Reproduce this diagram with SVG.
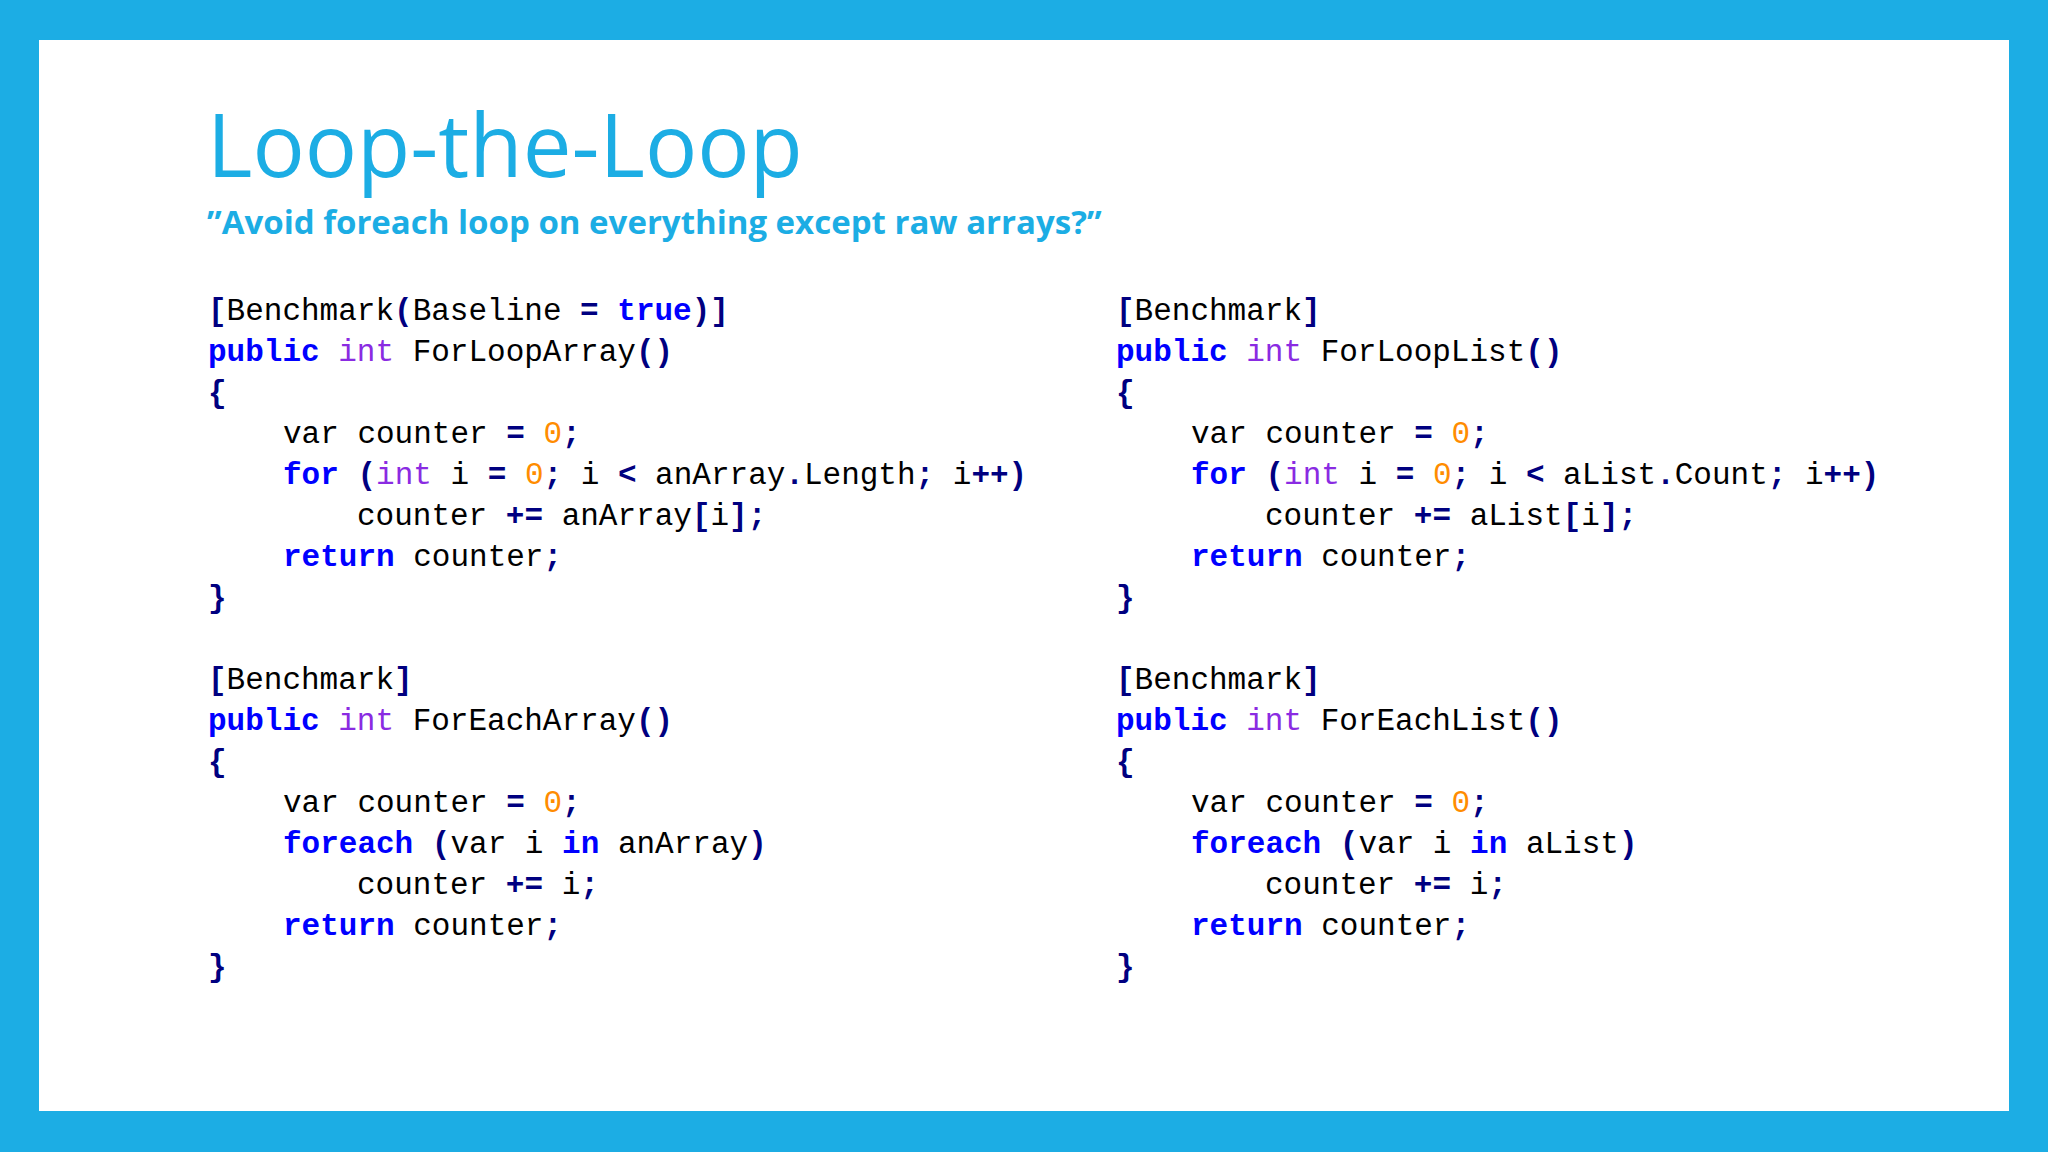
<svg xmlns="http://www.w3.org/2000/svg" width="2048" height="1152" viewBox="0 0 2048 1152">
<style>
.c{font-family:"Liberation Mono","DejaVu Sans Mono",monospace;font-size:31px;fill:#000}
.p{fill:#000080;font-weight:bold}
.k{fill:#0000FF;font-weight:bold}
.t{fill:#8A2BE2}
.n{fill:#FF8C00}
</style>
<rect width="2048" height="1152" fill="#1CADE4"/>
<rect x="39" y="40" width="1970" height="1071" fill="#fff"/>
<g id="title">
<text x="207" y="177" font-family="'Open Sans','Noto Sans',sans-serif" font-size="87" fill="#1CADE4">Loop-the-Loop</text>
<text x="207" y="234" font-family="'Open Sans','Noto Sans',sans-serif" font-size="33" font-weight="bold" fill="#1CADE4">”Avoid foreach loop on everything except raw arrays?”</text>
</g>
<g id="code1" class="c">
<text x="208" y="320"><tspan class="p">[</tspan>Benchmark<tspan class="p">(</tspan>Baseline <tspan class="p">=</tspan> <tspan class="k">true</tspan><tspan class="p">)]</tspan></text>
<text x="208" y="361"><tspan class="k">public</tspan> <tspan class="t">int</tspan> ForLoopArray<tspan class="p">()</tspan></text>
<text x="208" y="402"><tspan class="p">{</tspan></text>
<text x="283" y="443">var counter <tspan class="p">=</tspan> <tspan class="n">0</tspan><tspan class="p">;</tspan></text>
<text x="283" y="484"><tspan class="k">for</tspan> <tspan class="p">(</tspan><tspan class="t">int</tspan> i <tspan class="p">=</tspan> <tspan class="n">0</tspan><tspan class="p">;</tspan> i <tspan class="p">&lt;</tspan> anArray<tspan class="p">.</tspan>Length<tspan class="p">;</tspan> i<tspan class="p">++)</tspan></text>
<text x="357" y="525">counter <tspan class="p">+=</tspan> anArray<tspan class="p">[</tspan>i<tspan class="p">];</tspan></text>
<text x="283" y="566"><tspan class="k">return</tspan> counter<tspan class="p">;</tspan></text>
<text x="208" y="607"><tspan class="p">}</tspan></text>
</g>
<g id="code2" class="c">
<text x="208" y="689"><tspan class="p">[</tspan>Benchmark<tspan class="p">]</tspan></text>
<text x="208" y="730"><tspan class="k">public</tspan> <tspan class="t">int</tspan> ForEachArray<tspan class="p">()</tspan></text>
<text x="208" y="771"><tspan class="p">{</tspan></text>
<text x="283" y="812">var counter <tspan class="p">=</tspan> <tspan class="n">0</tspan><tspan class="p">;</tspan></text>
<text x="283" y="853"><tspan class="k">foreach</tspan> <tspan class="p">(</tspan>var i <tspan class="k">in</tspan> anArray<tspan class="p">)</tspan></text>
<text x="357" y="894">counter <tspan class="p">+=</tspan> i<tspan class="p">;</tspan></text>
<text x="283" y="935"><tspan class="k">return</tspan> counter<tspan class="p">;</tspan></text>
<text x="208" y="976"><tspan class="p">}</tspan></text>
</g>
<g id="code3" class="c">
<text x="1116" y="320"><tspan class="p">[</tspan>Benchmark<tspan class="p">]</tspan></text>
<text x="1116" y="361"><tspan class="k">public</tspan> <tspan class="t">int</tspan> ForLoopList<tspan class="p">()</tspan></text>
<text x="1116" y="402"><tspan class="p">{</tspan></text>
<text x="1191" y="443">var counter <tspan class="p">=</tspan> <tspan class="n">0</tspan><tspan class="p">;</tspan></text>
<text x="1191" y="484"><tspan class="k">for</tspan> <tspan class="p">(</tspan><tspan class="t">int</tspan> i <tspan class="p">=</tspan> <tspan class="n">0</tspan><tspan class="p">;</tspan> i <tspan class="p">&lt;</tspan> aList<tspan class="p">.</tspan>Count<tspan class="p">;</tspan> i<tspan class="p">++)</tspan></text>
<text x="1265" y="525">counter <tspan class="p">+=</tspan> aList<tspan class="p">[</tspan>i<tspan class="p">];</tspan></text>
<text x="1191" y="566"><tspan class="k">return</tspan> counter<tspan class="p">;</tspan></text>
<text x="1116" y="607"><tspan class="p">}</tspan></text>
</g>
<g id="code4" class="c">
<text x="1116" y="689"><tspan class="p">[</tspan>Benchmark<tspan class="p">]</tspan></text>
<text x="1116" y="730"><tspan class="k">public</tspan> <tspan class="t">int</tspan> ForEachList<tspan class="p">()</tspan></text>
<text x="1116" y="771"><tspan class="p">{</tspan></text>
<text x="1191" y="812">var counter <tspan class="p">=</tspan> <tspan class="n">0</tspan><tspan class="p">;</tspan></text>
<text x="1191" y="853"><tspan class="k">foreach</tspan> <tspan class="p">(</tspan>var i <tspan class="k">in</tspan> aList<tspan class="p">)</tspan></text>
<text x="1265" y="894">counter <tspan class="p">+=</tspan> i<tspan class="p">;</tspan></text>
<text x="1191" y="935"><tspan class="k">return</tspan> counter<tspan class="p">;</tspan></text>
<text x="1116" y="976"><tspan class="p">}</tspan></text>
</g>
</svg>
